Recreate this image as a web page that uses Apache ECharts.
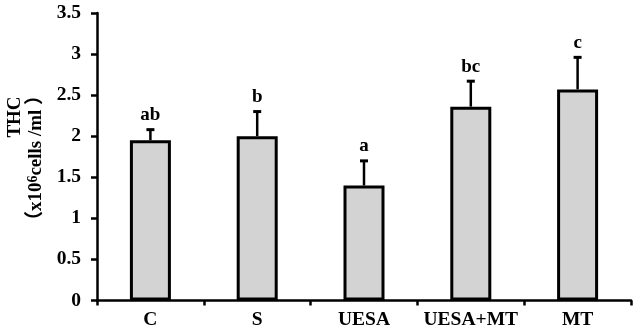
<!DOCTYPE html>
<html>
<head>
<meta charset="utf-8">
<script src="https://cdn.jsdelivr.net/npm/echarts@6/dist/echarts.min.js"></script>
<style>
  html, body { margin: 0; padding: 0; background: #fff; }
  #chart { width: 638px; height: 335px; }
</style>
</head>
<body>
<div id="chart"></div>
<script>
// Total haemocyte count per treatment group (mean ± SD) with significance letters
const groups = ['C', 'S', 'UESA', 'UESA+MT', 'MT'];
const means = [1.95, 2.00, 1.40, 2.36, 2.57];
const errors = [0.13, 0.30, 0.30, 0.31, 0.39];
const letters = ['ab', 'b', 'a', 'bc', 'c'];
const yTicks = [0, 0.5, 1, 1.5, 2, 2.5, 3, 3.5];

const serif = '"Liberation Serif", "Times New Roman", "Noto Sans CJK SC", serif';

const chart = echarts.init(document.getElementById('chart'), null, { renderer: 'canvas' });

chart.setOption({
  animation: false,
  backgroundColor: '#ffffff',
  grid: { left: 97, right: 7, top: 13, bottom: 34.5, containLabel: false },
  xAxis: {
    type: 'category',
    data: groups,
    axisLine: { lineStyle: { color: '#000', width: 2.5 } },
    axisTick: { show: true, length: 5, interval: 0, lineStyle: { color: '#000', width: 2.5 } },
    axisLabel: { interval: 0, color: '#000', fontFamily: serif, fontWeight: 'bold', fontSize: 19.5, margin: 10 }
  },
  yAxis: {
    type: 'value',
    min: yTicks[0],
    max: yTicks[yTicks.length - 1],
    interval: 0.5,
    splitLine: { show: false },
    axisLine: { show: true, lineStyle: { color: '#000', width: 2.5 } },
    axisTick: { show: true, length: 6, lineStyle: { color: '#000', width: 2.5 } },
    axisLabel: {
      color: '#000', fontFamily: serif, fontWeight: 'bold', fontSize: 19.5, margin: 16,
      formatter: v => String(v)
    }
  },
  graphic: [
    {
      type: 'text',
      x: 15, y: 117,
      rotation: Math.PI / 2,
      style: {
        text: 'THC',
        font: 'bold 19px ' + serif,
        fill: '#000',
        align: 'center',
        verticalAlign: 'middle'
      }
    },
    {
      type: 'text',
      x: 36, y: 158,
      rotation: Math.PI / 2,
      style: {
        text: '{n|（x10}{s|6}{n|cells /ml ）}',
        align: 'center',
        verticalAlign: 'middle',
        rich: {
          n: { fontFamily: serif, fontWeight: 'bold', fontSize: 19, fill: '#000', lineHeight: 20, verticalAlign: 'bottom' },
          s: { fontFamily: serif, fontWeight: 'bold', fontSize: 14, fill: '#000', lineHeight: 20, verticalAlign: 'top' }
        }
      }
    }
  ],
  series: [
    {
      type: 'bar',
      data: means,
      barWidth: 41,
      itemStyle: { color: '#d3d3d3', borderColor: '#000', borderWidth: 3 },
      z: 2
    },
    {
      type: 'custom',
      z: 3,
      data: means.map((m, i) => [i, m, m + errors[i]]),
      renderItem: function (params, api) {
        const base = api.coord([api.value(0), api.value(1)]);
        const top = api.coord([api.value(0), api.value(2)]);
        const x = base[0];
        const capHalf = 4;
        return {
          type: 'group',
          children: [
            {
              type: 'line',
              shape: { x1: x, y1: base[1], x2: x, y2: top[1] },
              style: { stroke: '#000', lineWidth: 2.5 }
            },
            {
              type: 'line',
              shape: { x1: x - capHalf, y1: top[1], x2: x + capHalf, y2: top[1] },
              style: { stroke: '#000', lineWidth: 3 }
            },
            {
              type: 'text',
              x: x,
              y: top[1] - 5,
              style: {
                text: letters[params.dataIndex],
                font: 'bold 19px ' + serif,
                fill: '#000',
                align: 'center',
                verticalAlign: 'bottom'
              }
            }
          ]
        };
      }
    }
  ]
});
</script>
</body>
</html>
